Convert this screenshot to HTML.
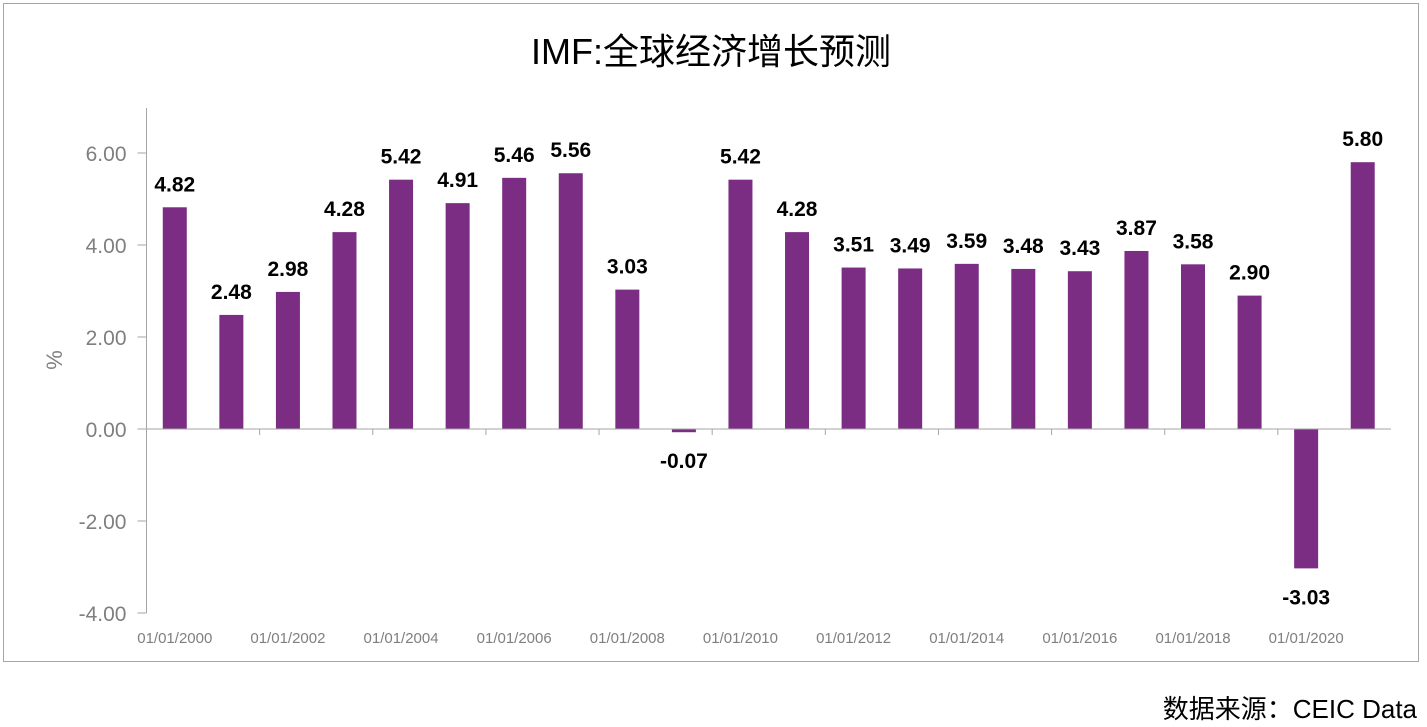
<!DOCTYPE html>
<html><head><meta charset="utf-8"><style>
body{margin:0;background:#fff;width:1427px;height:727px;overflow:hidden}
svg{display:block}
text{font-family:"Liberation Sans","Noto Sans CJK SC",sans-serif}
</style></head><body>
<svg id="chart" width="1427" height="727" xmlns="http://www.w3.org/2000/svg">
<rect x="3.5" y="3.5" width="1415" height="658" fill="#fff" stroke="#a6a6a6"/>
<text x="711" y="64" text-anchor="middle" font-size="36" fill="#000">IMF:全球经济增长预测</text>
<text transform="translate(62,360) rotate(-90)" text-anchor="middle" font-size="22" fill="#7f7f7f">%</text>
<text x="1417" y="718" text-anchor="end" font-size="26" fill="#000">数据来源：CEIC Data</text>
<g id="plot"></g>
</svg>
<script>
const categories=["2000","2001","2002","2003","2004","2005","2006","2007","2008","2009","2010","2011","2012","2013","2014","2015","2016","2017","2018","2019","2020","2021"];
const values=[4.82,2.48,2.98,4.28,5.42,4.91,5.46,5.56,3.03,-0.07,5.42,4.28,3.51,3.49,3.59,3.48,3.43,3.87,3.58,2.90,-3.03,5.80];
const yTicks=[-4,-2,0,2,4,6];
const ns="http://www.w3.org/2000/svg";
const g=document.getElementById('plot');
const x0=146.5,x1=1391,yTop=108,n=categories.length,step=(x1-x0)/n,barW=24;
function y(v){return 429-v*46;}
function xc(i){return x0+step*(i+0.5);}
function mk(t,a,txt){const e=document.createElementNS(ns,t);for(const k in a)e.setAttribute(k,a[k]);if(txt!==undefined)e.textContent=txt;g.appendChild(e);return e;}
let e=mk('line',{x1:x0,y1:yTop,x2:x0,y2:y(-4),stroke:'#a6a6a6'});


yTicks.forEach(v=>{
 let t=mk('line',{x1:x0-9,y1:y(v),x2:x0,y2:y(v),stroke:'#a6a6a6'});
 
 
 let l=mk('text',{x:x0-20,y:y(v)+8,'text-anchor':'end','font-size':'21',fill:'#7f7f7f'},v.toFixed(2));
 
 
});
values.forEach((v,i)=>{
 const top=Math.min(y(v),y(0)),h=Math.abs(y(v)-y(0));
 let b=mk('rect',{x:xc(i)-barW/2,y:top,width:barW,height:Math.max(h,1),fill:'#7B2C83'});
 
 
 const ly=v>=0?y(v)-16:y(v)+36;
 let l=mk('text',{x:xc(i),y:ly,'text-anchor':'middle','font-size':'21','font-weight':'bold',fill:'#000'},v.toFixed(2));
 
 
});
e=mk('line',{x1:x0,y1:y(0),x2:x1,y2:y(0),stroke:'#a6a6a6'});


for(let i=2;i<n;i+=2){
 let t=mk('line',{x1:x0+step*i,y1:y(0),x2:x0+step*i,y2:y(0)+6,stroke:'#a6a6a6'});
 
 
}
categories.forEach((c,i)=>{
 if(i%2) return;
 let l=mk('text',{x:xc(i),y:643,'text-anchor':'middle','font-size':'15',fill:'#7f7f7f'},'01/01/'+c);
 
 
});
</script>
</body></html>
